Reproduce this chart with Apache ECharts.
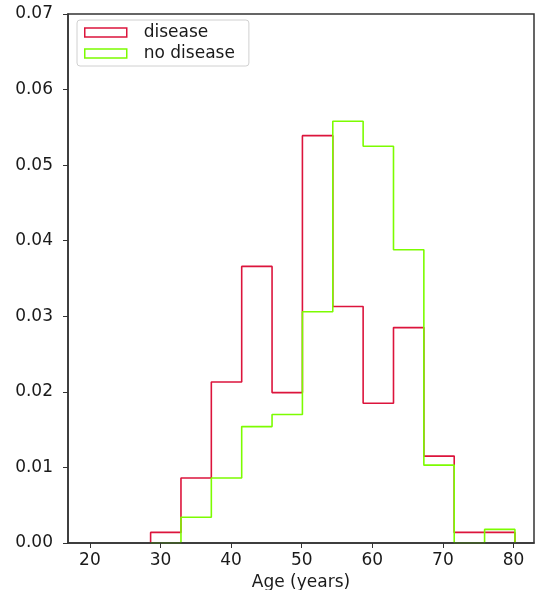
<!DOCTYPE html>
<html>
<head>
<meta charset="utf-8">
<script src="https://cdn.jsdelivr.net/npm/echarts@6/dist/echarts.min.js"></script>
<style>
  html, body { margin: 0; padding: 0; background: #fff; }
  #main { width: 535px; height: 590px; }
</style>
</head>
<body>
<div id="main"></div>
<script>
// bin edges of the age histogram (years)
var binEdges = [28.6, 32.9, 37.2, 41.5, 45.8, 50.1, 54.4, 58.7, 63.0, 67.3, 71.6, 75.9, 80.2];
// densities per bin
var diseaseVals   = [0.0014, 0.0086, 0.0213, 0.0366, 0.0199, 0.0539, 0.0313, 0.0185, 0.0285, 0.0115, 0.0014, 0.0014];
var noDiseaseVals = [0.0, 0.0034, 0.0086, 0.0154, 0.0170, 0.0306, 0.0558, 0.0525, 0.0388, 0.0103, 0.0, 0.0018];
var xTicks = [20, 30, 40, 50, 60, 70, 80];
var seriesNames = ['disease', 'no disease'];
var colors = ['#dc143c', '#7cfc00'];

// outline of a step histogram: up at first edge, across each bin, down at the last edge
function stepPoints(edges, vals) {
    var pts = [[edges[0], 0]];
    for (var i = 0; i < vals.length; i++) {
        pts.push([edges[i], vals[i]]);
        pts.push([edges[i + 1], vals[i]]);
    }
    pts.push([edges[edges.length - 1], 0]);
    return pts;
}

var myChart = echarts.init(document.getElementById('main'));
var font = 'DejaVu Sans';
var fs = 17;

var option = {
    animation: false,
    grid: {
        left: 68, right: 1, top: 14, bottom: 47,
        outerBoundsMode: 'none',
        containLabel: false,
        show: true, borderColor: '#333', borderWidth: 1.5,
        backgroundColor: 'transparent'
    },
    legend: {
        orient: 'vertical',
        left: 77, top: 20,
        padding: [4, 14, 4, 7],
        itemGap: 4,
        itemWidth: 42, itemHeight: 9,
        backgroundColor: '#fff',
        borderColor: '#d0d0d0', borderWidth: 1, borderRadius: 3,
        textStyle: { fontFamily: font, fontSize: fs, color: '#1a1a1a', padding: [0, 0, 0, 12] },
        data: seriesNames.map(function (n, i) {
            return {
                name: n, icon: 'rect',
                itemStyle: { color: 'transparent', borderColor: colors[i], borderWidth: 1.5 }
            };
        })
    },
    xAxis: {
        type: 'value',
        min: 16.9, max: 82.9,
        z: 5,
        name: 'Age (years)',
        nameLocation: 'middle',
        nameGap: 23,
        nameTextStyle: { fontFamily: font, fontSize: fs, color: '#1a1a1a' },
        splitLine: { show: false },
        axisLine: { lineStyle: { color: '#333', width: 1.5 } },
        axisTick: { show: true, length: 5, customValues: xTicks, lineStyle: { color: '#333' } },
        axisLabel: {
            customValues: xTicks,
            margin: 9,
            fontFamily: font, fontSize: fs, color: '#1a1a1a'
        }
    },
    yAxis: {
        type: 'value',
        min: 0, max: 0.07, interval: 0.01,
        z: 5,
        splitLine: { show: false },
        axisLine: { show: true, lineStyle: { color: '#333', width: 1.5 } },
        axisTick: { show: true, length: 5, lineStyle: { color: '#333' } },
        axisLabel: {
            margin: 15,
            fontFamily: font, fontSize: fs, color: '#1a1a1a',
            formatter: function (v) { return v.toFixed(2); }
        }
    },
    series: [
        {
            name: seriesNames[0], type: 'line', symbol: 'none', z: 2,
            lineStyle: { color: colors[0], width: 1.6 },
            itemStyle: { color: colors[0] },
            data: stepPoints(binEdges, diseaseVals)
        },
        {
            name: seriesNames[1], type: 'line', symbol: 'none', z: 3,
            lineStyle: { color: colors[1], width: 1.6 },
            itemStyle: { color: colors[1] },
            data: stepPoints(binEdges, noDiseaseVals)
        }
    ]
};

option && myChart.setOption(option);
</script>
</body>
</html>
